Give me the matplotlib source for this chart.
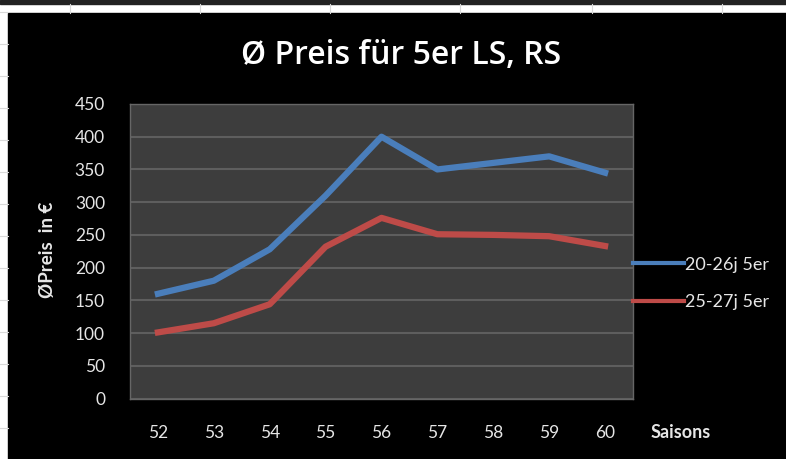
import matplotlib.pyplot as plt
from matplotlib.patches import Rectangle
from matplotlib.lines import Line2D

saisons = ["52", "53", "54", "55", "56", "57", "58", "59", "60"]
preis_20_26 = [160, 180, 228, 310, 400, 350, 360, 370, 345]
preis_25_27 = [101, 115, 144, 232, 276, 251, 250, 248, 233]
yticks = [0, 50, 100, 150, 200, 250, 300, 350, 400, 450]

blue = "#4a7ebb"
red = "#be4b48"
txt = "#e6e6e6"
font = ["Lato", "DejaVu Sans"]

fig = plt.figure(figsize=(7.86, 4.59), dpi=100, facecolor="white")

# spreadsheet background behind the chart
W, H = 786, 459
for gy in range(12, H, 32):
    fig.add_artist(Line2D([0, 8 / W], [1 - gy / H] * 2, color="#d9d9d9", lw=0.8))
for gx in [70, 200, 330, 460, 592, 722]:
    fig.add_artist(Line2D([gx / W] * 2, [1 - 4 / H, 1 - 13 / H], color="#d9d9d9", lw=0.8))
fig.add_artist(Rectangle((0, 1 - 4 / H), 1, 4 / H, transform=fig.transFigure,
                         color="#222222", zorder=0))
fig.add_artist(Rectangle((8 / W, 0), 1 - 8 / W, 1 - 13 / H, transform=fig.transFigure,
                         color="black", zorder=0))

ax = fig.add_axes([130 / W, 1 - 398.5 / H, 503 / W, 294.5 / H])
ax.set_facecolor("#3d3d3d")
x = range(len(saisons))
ax.plot(x, preis_20_26, color=blue, lw=4.5, solid_joinstyle="round", label="20-26j 5er")
ax.plot(x, preis_25_27, color=red, lw=4.5, solid_joinstyle="round", label="25-27j 5er")

ax.set_xlim(-0.5, len(saisons) - 0.5)
ax.set_ylim(0, 450)
ax.set_yticks(yticks)
ax.set_xticks(list(x))
ax.set_xticklabels(saisons)
ax.yaxis.grid(True, color="#5e5e5e", lw=1.5)
ax.set_axisbelow(True)
ax.tick_params(length=0, colors=txt, labelsize=12.5, pad=18)
ax.tick_params(axis="x", pad=19)
for lab in ax.get_xticklabels() + ax.get_yticklabels():
    lab.set_family(font)
for s in ax.spines.values():
    s.set_color("#666666")
    s.set_linewidth(1)

fig.text(401 / W, 1 - 55 / H, "Ø Preis für 5er LS, RS", ha="center", va="center",
         color="white", fontsize=23, fontweight="semibold",
         family=["Open Sans", "DejaVu Sans"])
fig.text(48 / W, 1 - 250 / H, "ØPreis  in €", rotation=90, ha="center", va="center",
         color=txt, fontsize=13.5, fontweight="bold", family=font)
fig.text(651 / W, 1 - 432 / H, "Saisons", ha="left", va="center",
         color=txt, fontsize=13, fontweight="bold", family=font)

leg = ax.legend(loc="center left", bbox_to_anchor=(1.0, 0.39), frameon=False,
                handlelength=2.8, handletextpad=0.1, labelspacing=1.2,
                borderaxespad=0, borderpad=0,
                prop={"family": font, "size": 13})
for t in leg.get_texts():
    t.set_color(txt)
for h in leg.get_lines():
    h.set_linewidth(3)

fig.savefig("out.png", dpi=100, facecolor="white")
